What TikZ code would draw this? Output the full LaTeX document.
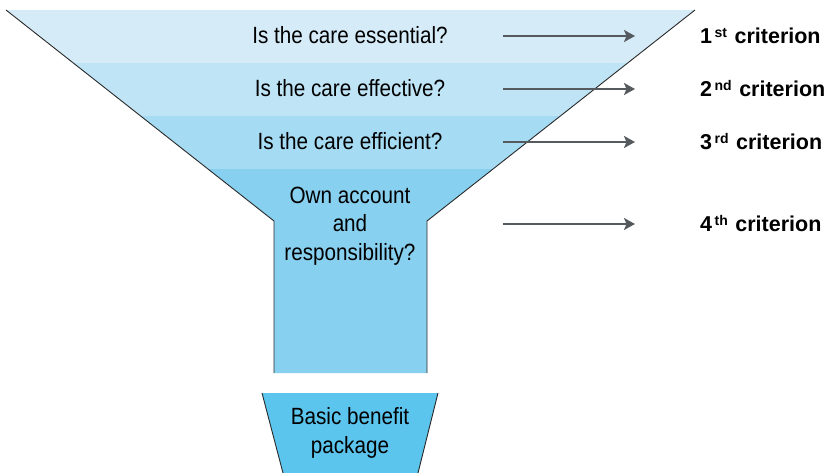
\documentclass[tikz,border=0pt]{standalone}
\usepackage{fontspec}
\setmainfont[FakeStretch=0.88,BoldFeatures={FakeStretch=1.0}]{Liberation Sans}
\newfontfamily\supfont{Liberation Sans}
\usetikzlibrary{arrows.meta}
\definecolor{bandA}{HTML}{D5ECF8}
\definecolor{bandB}{HTML}{BEE4F6}
\definecolor{bandC}{HTML}{A5DBF3}
\definecolor{bandD}{HTML}{88D0F0}
\definecolor{bandE}{HTML}{5CC5EE}
\definecolor{arrowgray}{HTML}{555A5E}
\definecolor{edgegray}{HTML}{2A2A2A}
\newcommand\supx[1]{\hspace{2.5pt}\raisebox{6pt}{\supfont\bfseries\fontsize{14}{14}\selectfont #1}\hspace{7.5pt}}
\begin{document}
\begin{tikzpicture}[x=1pt,y=-1pt,
  question/.style={font=\fontsize{23.5}{28.5}\selectfont, text=black, align=center, inner sep=0pt, anchor=base},
  crit/.style={font=\supfont\bfseries\fontsize{21.5}{24}\selectfont, text=black, inner sep=0pt, anchor=base west},
  edge/.style={draw=edgegray, line width=0.9pt},
  flow/.style={draw=arrowgray, line width=2.6pt, -{Stealth[length=11pt,width=12pt,inset=2.5pt]}}]
\useasboundingbox (0,0) rectangle (830,472);
% funnel bands
\fill[bandA] (6,10) -- (695,10) -- (627.7,63) -- (73.3,63) -- cycle;
\fill[bandB] (73.3,63) -- (627.7,63) -- (560.4,116) -- (140.6,116) -- cycle;
\fill[bandC] (140.6,116) -- (560.4,116) -- (493,169) -- (208,169) -- cycle;
\fill[bandD] (208,169) -- (493,169) -- (427,221) -- (427,373) -- (274,373) -- (274,221) -- cycle;
\draw[edge] (6,10) -- (274,221) -- (274,373);
\draw[edge] (695,10) -- (427,221) -- (427,373);
% bottom trapezoid
\fill[bandE] (262,393) -- (438,393) -- (418,473) -- (283,473) -- cycle;
\draw[edge] (262,393) -- (283,473);
\draw[edge] (438,393) -- (418,473);
% questions
\node[question] (q1) at (350,43) {Is the care essential?};
\node[question] (q2) at (350,96) {Is the care effective?};
\node[question] (q3) at (350,149) {Is the care efficient?};
\node[question] (q4) at (350,260) {Own account\\and\\responsibility?};
\node[question] (q5) at (350,453) {Basic benefit\\package};
% criteria
\node[crit] (c1) at (700,43) {1\supx{st}criterion};
\node[crit] (c2) at (700,96) {2\supx{nd}criterion};
\node[crit] (c3) at (700,149) {3\supx{rd}criterion};
\node[crit] (c4) at (700,231) {4\supx{th}criterion};
% arrows
\coordinate (s1) at (503,36); \coordinate (e1) at (635,36);
\coordinate (s2) at (503,89); \coordinate (e2) at (635,89);
\coordinate (s3) at (503,142); \coordinate (e3) at (635,142);
\coordinate (s4) at (503,224); \coordinate (e4) at (635,224);
\draw[flow] (s1) -- (e1);
\draw[flow] (s2) -- (e2);
\draw[flow] (s3) -- (e3);
\draw[flow] (s4) -- (e4);
\end{tikzpicture}
\end{document}
